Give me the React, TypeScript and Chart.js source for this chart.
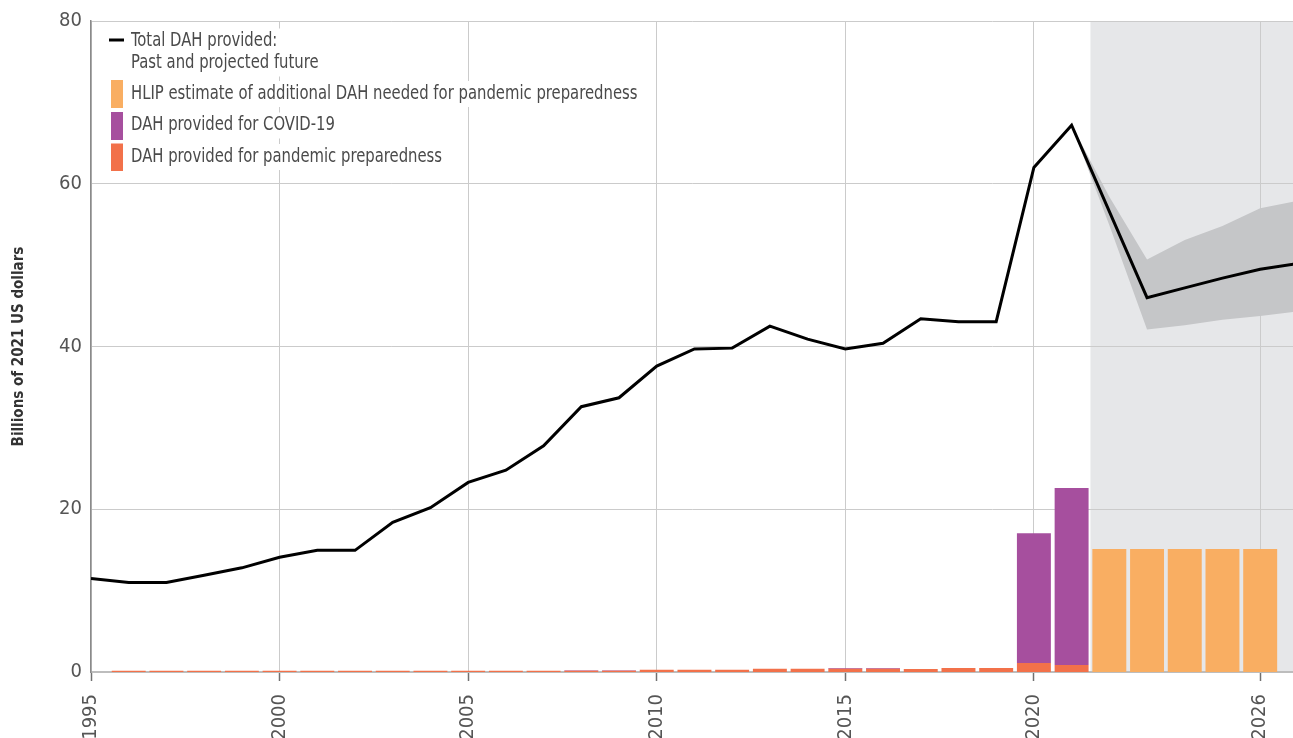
import React, { useEffect, useRef } from 'react';
import { Chart, registerables } from 'chart.js';

Chart.register(...registerables);

const FONT = '"Liberation Sans Narrow", "Arial Narrow", "DejaVu Sans Condensed", sans-serif';

// ---- Data ----
const totalYears = [1995, 1996, 1997, 1998, 1999, 2000, 2001, 2002, 2003, 2004, 2005, 2006, 2007, 2008, 2009, 2010, 2011, 2012, 2013, 2014, 2015, 2016, 2017, 2018, 2019, 2020, 2021, 2023, 2024, 2025, 2026, 2027];
const totalDah = [11.5, 11.0, 11.0, 11.9, 12.8, 14.1, 14.95, 14.95, 18.4, 20.2, 23.3, 24.8, 27.8, 32.6, 33.7, 37.6, 39.7, 39.8, 42.5, 40.9, 39.7, 40.4, 43.4, 43.05, 43.05, 62.0, 67.2, 46.0, 47.2, 48.4, 49.5, 50.2];

const bandYears = [2021, 2022, 2023, 2024, 2025, 2026, 2027];
const bandUpper = [67.2, 58.4, 50.7, 53.1, 54.8, 57.0, 57.9];
const bandLower = [67.2, 54.9, 42.1, 42.6, 43.3, 43.75, 44.3];

const barYears = [1996, 1997, 1998, 1999, 2000, 2001, 2002, 2003, 2004, 2005, 2006, 2007, 2008, 2009, 2010, 2011, 2012, 2013, 2014, 2015, 2016, 2017, 2018, 2019, 2020, 2021];
const preparedness = [0.15, 0.15, 0.15, 0.15, 0.15, 0.15, 0.15, 0.15, 0.15, 0.15, 0.15, 0.15, 0.15, 0.15, 0.28, 0.28, 0.28, 0.4, 0.4, 0.4, 0.4, 0.37, 0.5, 0.5, 1.1, 0.86];
const covid = [0, 0, 0, 0, 0, 0, 0, 0, 0, 0, 0, 0, 0.08, 0.08, 0, 0, 0, 0, 0, 0.1, 0.1, 0, 0, 0, 15.95, 21.74];

const hlipYears = [2022, 2023, 2024, 2025, 2026];
const hlip = [15.1, 15.1, 15.1, 15.1, 15.1];

const xTickYears = [1995, 2000, 2005, 2010, 2015, 2020, 2026];
const projectionStart = 2021.5;

const COLORS = {
  line: '#000000',
  band: '#c5c6c8',
  projection: '#e6e7e9',
  hlip: '#f9ae62',
  covid: '#a64f9e',
  prep: '#f2714a',
};

const legendItems = [
  { kind: 'line', color: COLORS.line, lines: ['Total DAH provided:', 'Past and projected future'] },
  { kind: 'box', color: COLORS.hlip, lines: ['HLIP estimate of additional DAH needed for pandemic preparedness'] },
  { kind: 'box', color: COLORS.covid, lines: ['DAH provided for COVID-19'] },
  { kind: 'box', color: COLORS.prep, lines: ['DAH provided for pandemic preparedness'] },
];

const pts = (xs: number[], ys: number[]) => xs.map((x, i) => ({ x, y: ys[i] }));

const projectionPlugin = {
  id: 'projectionShade',
  beforeDraw(chart: any) {
    const { ctx, chartArea, scales } = chart;
    const x0 = scales.x.getPixelForValue(projectionStart);
    ctx.save();
    ctx.fillStyle = COLORS.projection;
    ctx.fillRect(x0, chartArea.top, chartArea.right - x0, chartArea.bottom - chartArea.top);
    ctx.restore();
  },
};

const TEXT_SQUEEZE = 0.868;

const legendPlugin = {
  id: 'customLegend',
  afterDraw(chart: any) {
    const { ctx } = chart;
    ctx.save();
    ctx.font = `19px ${FONT}`;
    ctx.textBaseline = 'middle';
    const textX = 131;
    const layout = [
      { centers: [41.5, 63.5], marker: 40 },
      { centers: [94], top: 80, bottom: 108 },
      { centers: [125.5], top: 112, bottom: 140 },
      { centers: [157], top: 143.5, bottom: 171 },
    ];
    legendItems.forEach((item, i) => {
      const L: any = layout[i];
      item.lines.forEach((t, j) => {
        const w = ctx.measureText(t).width * TEXT_SQUEEZE;
        ctx.fillStyle = '#ffffff';
        ctx.fillRect(textX - 4, L.centers[j] - 13, w + 8, 26);
      });
    });
    legendItems.forEach((item, i) => {
      const L: any = layout[i];
      if (item.kind === 'line') {
        ctx.strokeStyle = item.color;
        ctx.lineWidth = 3;
        ctx.beginPath();
        ctx.moveTo(109, L.marker);
        ctx.lineTo(124, L.marker);
        ctx.stroke();
      } else {
        ctx.fillStyle = item.color;
        ctx.fillRect(111, L.top, 12, L.bottom - L.top);
      }
      ctx.fillStyle = '#4a4a4a';
      item.lines.forEach((t, j) => {
        ctx.save();
        ctx.translate(textX, L.centers[j]);
        ctx.scale(TEXT_SQUEEZE, 1);
        ctx.fillText(t, 0, 0);
        ctx.restore();
      });
    });
    ctx.restore();
  },
};

export default function App() {
  const ref = useRef<HTMLCanvasElement | null>(null);

  useEffect(() => {
    document.body.style.margin = '0';
    const canvas = ref.current;
    if (!canvas) return;
    const chart = new Chart(canvas, {
      type: 'bar',
      data: {
        datasets: [
          {
            type: 'line',
            label: 'Total DAH provided',
            data: pts(totalYears, totalDah),
            borderColor: COLORS.line,
            borderWidth: 3,
            pointRadius: 0,
            tension: 0,
            fill: false,
            yAxisID: 'y',
            order: 0,
          } as any,
          {
            type: 'line',
            label: 'upper',
            data: pts(bandYears, bandUpper),
            borderWidth: 0,
            borderColor: 'rgba(0,0,0,0)',
            backgroundColor: COLORS.band,
            pointRadius: 0,
            tension: 0,
            fill: '+1',
            yAxisID: 'y',
            order: 3,
          } as any,
          {
            type: 'line',
            label: 'lower',
            data: pts(bandYears, bandLower),
            borderWidth: 0,
            borderColor: 'rgba(0,0,0,0)',
            pointRadius: 0,
            tension: 0,
            fill: false,
            yAxisID: 'y',
            order: 4,
          } as any,
          {
            type: 'bar',
            label: 'DAH provided for pandemic preparedness',
            data: pts(barYears, preparedness),
            backgroundColor: COLORS.prep,
            yAxisID: 'yb',
            stack: 'b',
            barPercentage: 0.9,
            categoryPercentage: 1,
            order: 1,
          } as any,
          {
            type: 'bar',
            label: 'DAH provided for COVID-19',
            data: pts(barYears, covid),
            backgroundColor: COLORS.covid,
            yAxisID: 'yb',
            stack: 'b',
            barPercentage: 0.9,
            categoryPercentage: 1,
            order: 1,
          } as any,
          {
            type: 'bar',
            label: 'HLIP estimate',
            data: pts(hlipYears, hlip),
            backgroundColor: COLORS.hlip,
            yAxisID: 'yb',
            stack: 'b',
            barPercentage: 0.9,
            categoryPercentage: 1,
            order: 1,
          } as any,
        ],
      },
      options: {
        animation: false,
        responsive: false,
        devicePixelRatio: 1,
        layout: { padding: { top: 20, right: 0, left: 0, bottom: 0 } },
        plugins: { legend: { display: false }, tooltip: { enabled: false } },
        scales: {
          x: {
            type: 'linear',
            min: 1995,
            max: 2026.87,
            offset: false,
            afterBuildTicks: (s: any) => {
              s.ticks = xTickYears.map((v) => ({ value: v }));
            },
            afterFit: (s: any) => {
              s.height = 66;
              s.paddingLeft = 0;
              s.paddingRight = 0;
            },
            grid: {
              color: '#cbcbcb',
              lineWidth: 1,
              offset: false,
              drawTicks: true,
              tickLength: 9,
              tickColor: '#707070',
              tickWidth: 1.5,
            },
            border: { display: true, color: '#bdbdbd', width: 2 },
            ticks: {
              autoSkip: false,
              minRotation: 90,
              maxRotation: 90,
              padding: 13,
              color: '#555555',
              font: { family: FONT, size: 20 },
              callback: (v: any) => String(v),
            },
          },
          y: {
            type: 'linear',
            min: 0,
            max: 80,
            afterFit: (s: any) => {
              s.width = 91;
            },
            ticks: {
              stepSize: 20,
              padding: 9,
              color: '#555555',
              font: { family: FONT, size: 20 },
            },
            grid: { color: '#cbcbcb', lineWidth: 1, drawTicks: false },
            border: { display: true, color: '#8a8a8a', width: 1.5 },
            title: {
              display: true,
              text: 'Billions of 2021 US dollars',
              color: '#333333',
              font: { family: FONT, size: 15, weight: 'bold' },
              padding: { top: 10, bottom: 0 },
            },
          },
          yb: {
            type: 'linear',
            display: false,
            stacked: true,
            min: 0,
            max: 80,
          },
        },
      } as any,
      plugins: [projectionPlugin, legendPlugin],
    });
    return () => chart.destroy();
  }, []);

  return (
    <div style={{ position: 'absolute', left: 0, top: 0, width: 1293, height: 738 }}>
      <canvas ref={ref} width={1293} height={738} style={{ display: 'block', width: 1293, height: 738 }} />
    </div>
  );
}
